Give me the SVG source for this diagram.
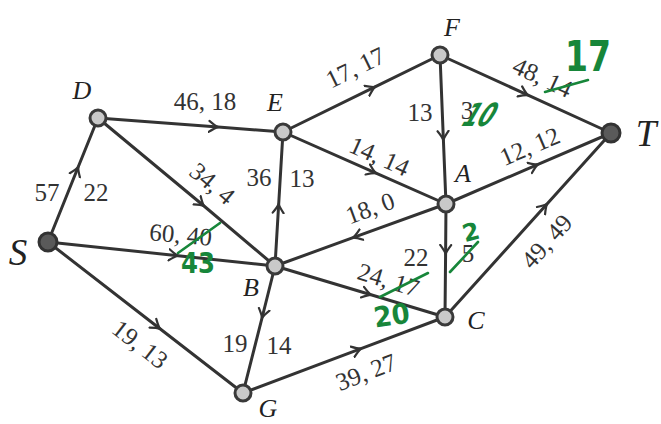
<svg xmlns="http://www.w3.org/2000/svg" width="661" height="424" viewBox="0 0 661 424">
<defs>
<marker id="arr" markerUnits="userSpaceOnUse" markerWidth="20" markerHeight="20" viewBox="-10 -10 20 20" refX="0" refY="0" orient="auto">
<path d="M-9,-5.5 Q-3,-1 0,0 Q-3,1 -9,5.5" fill="none" stroke="#333" stroke-width="2.2" stroke-linecap="round"/>
</marker>
</defs>
<style>
.e{fill:none;stroke:#333;stroke-width:3;marker-mid:url(#arr)}
.n{fill:#c9c9c9;stroke:#3a3a3a;stroke-width:3}
.nd{fill:#5a5a5a;stroke:#333;stroke-width:3}
.t{font-family:"Liberation Serif","DejaVu Serif",serif;font-size:25px;fill:#333;text-anchor:middle}
.l{font-family:"Liberation Serif","DejaVu Serif",serif;font-style:italic;font-size:26px;fill:#222;text-anchor:middle}
.lb{font-size:37px}
.g{font-family:"DejaVu Sans","Liberation Sans",sans-serif;font-weight:bold;fill:#17863a;text-anchor:middle}
.gs{stroke:#17863a;stroke-width:2.6;stroke-linecap:round}
</style>
<rect width="661" height="424" fill="#ffffff"/>
<g id="connectors">
<path class="e" d="M48,242 L78.2,167 L98,118"/>
<path class="e" d="M98,118 L218,127.1 L283,132"/>
<path class="e" d="M98,118 L204,206 L275,266"/>
<path class="e" d="M48,242 L178,255.7 L275,266"/>
<path class="e" d="M48,242 L160,328.7 L243,393"/>
<path class="e" d="M275,266 L262,318 L243,393"/>
<path class="e" d="M275,266 L278.7,204 L283,132"/>
<path class="e" d="M283,132 L375,86.9 L440,55"/>
<path class="e" d="M283,132 L376,173.1 L446,204"/>
<path class="e" d="M440,55 L443.4,140 L446,204"/>
<path class="e" d="M440,55 L528,95.1 L611,133"/>
<path class="e" d="M446,204 L538,164.4 L611,133"/>
<path class="e" d="M446,204 L353,237.7 L275,266"/>
<path class="e" d="M446,204 L445.6,254 L445,317"/>
<path class="e" d="M275,266 L371,294.8 L445,317"/>
<path class="e" d="M243,393 L361,348.6 L445,317"/>
<path class="e" d="M445,317 L547,204 L611,133"/>
</g>
<g id="edge-labels">
<text class="t" x="47" y="201">57</text>
<text class="t" x="96" y="201">22</text>
<text class="t" x="205" y="110">46, 18</text>
<text class="t" transform="translate(207,190) rotate(40)">34, 4</text>
<text class="t" transform="translate(180,243) rotate(5)">60, 40</text>
<text class="t" transform="translate(135,351) rotate(38)">19, 13</text>
<text class="t" x="235" y="352">19</text>
<text class="t" x="279" y="354">14</text>
<text class="t" x="259" y="186">36</text>
<text class="t" x="302" y="187">13</text>
<text class="t" transform="translate(359,75) rotate(-26)">17, 17</text>
<text class="t" transform="translate(376,164) rotate(24)">14, 14</text>
<text class="t" x="420" y="121">13</text>
<text class="t" x="467" y="119">3</text>
<text class="t" transform="translate(539,85) rotate(25)">48, 14</text>
<text class="t" transform="translate(533,154) rotate(-23)">12, 12</text>
<text class="t" transform="translate(373,216) rotate(-20)">18, 0</text>
<text class="t" x="416" y="266">22</text>
<text class="t" x="468" y="262">5</text>
<text class="t" transform="translate(386,288) rotate(17)">24, 17</text>
<text class="t" transform="translate(369,380) rotate(-21)">39, 27</text>
<text class="t" transform="translate(553,247) rotate(-48)">49, 49</text>
</g>
<g id="corrections">
<line class="gs" x1="178" y1="253" x2="220" y2="223"/>
<text class="g" x="198" y="273" font-size="28" textLength="34" lengthAdjust="spacingAndGlyphs">43</text>
<text class="g" transform="translate(474,126) skewX(-30)" font-size="32" textLength="30" lengthAdjust="spacingAndGlyphs">10</text>
<line class="gs" x1="545" y1="92" x2="588" y2="80"/>
<text class="g" x="588" y="71" font-size="42" textLength="46" lengthAdjust="spacingAndGlyphs">17</text>
<line class="gs" x1="380" y1="297" x2="428" y2="273"/>
<text class="g" transform="translate(393,325) rotate(-8)" font-size="28" textLength="36" lengthAdjust="spacingAndGlyphs">20</text>
<line class="gs" x1="450" y1="272" x2="478" y2="242"/>
<text class="g" transform="translate(473,240) rotate(-15)" font-size="24">2</text>
</g>
<g id="node-S"><circle class="nd" cx="48" cy="242" r="9"/><text class="l lb" x="18" y="265">S</text></g>
<g id="node-D"><circle class="n" cx="98" cy="118" r="8"/><text class="l" x="82" y="99">D</text></g>
<g id="node-E"><circle class="n" cx="283" cy="132" r="8"/><text class="l" x="275" y="111">E</text></g>
<g id="node-F"><circle class="n" cx="440" cy="55" r="8"/><text class="l" x="452" y="36">F</text></g>
<g id="node-T"><circle class="nd" cx="611" cy="133" r="9"/><text class="l lb" x="646" y="146">T</text></g>
<g id="node-A"><circle class="n" cx="446" cy="204" r="8"/><text class="l" x="463" y="182">A</text></g>
<g id="node-B"><circle class="n" cx="275" cy="266" r="8"/><text class="l" x="251" y="296">B</text></g>
<g id="node-C"><circle class="n" cx="445" cy="317" r="8"/><text class="l" x="476" y="329">C</text></g>
<g id="node-G"><circle class="n" cx="243" cy="393" r="8"/><text class="l" x="268" y="417">G</text></g>
</svg>
